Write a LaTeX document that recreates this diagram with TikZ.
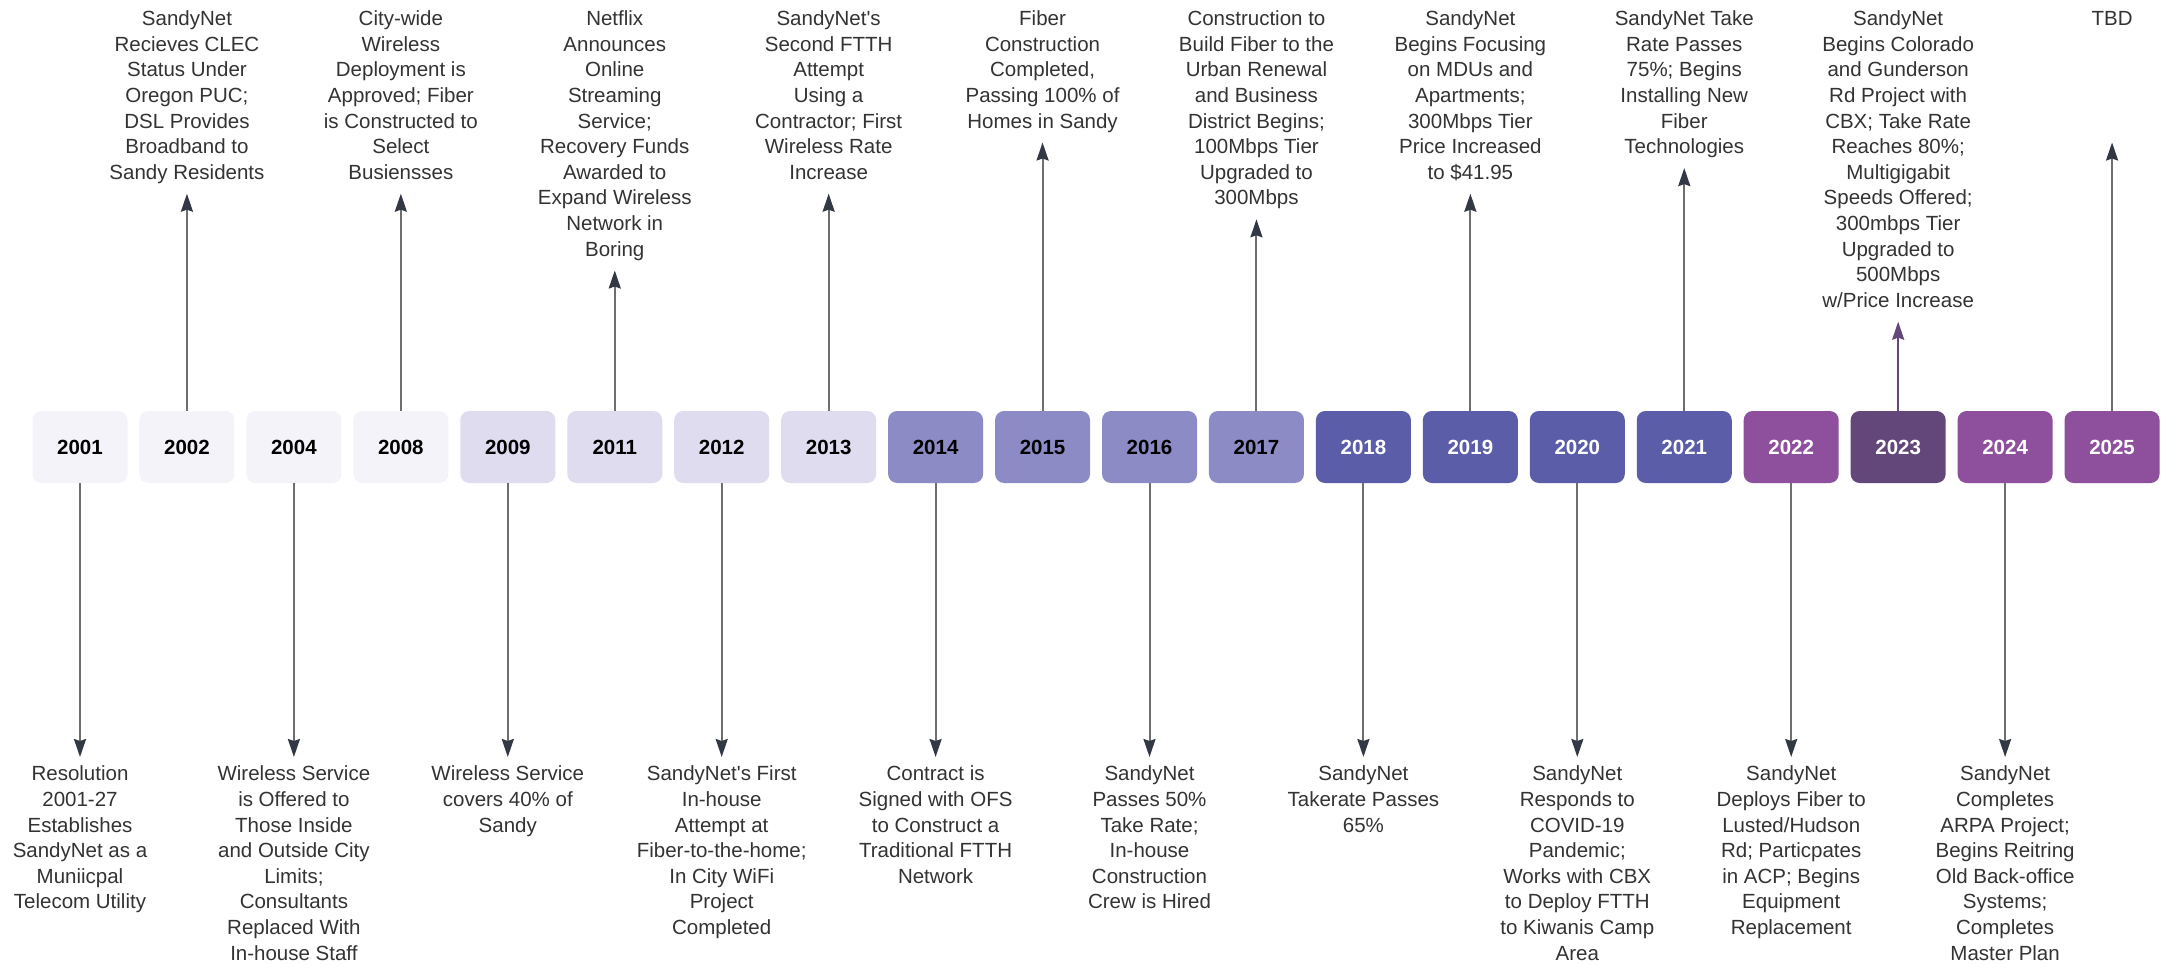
\documentclass[tikz,border=0pt]{standalone}
\usepackage{fontspec}
\setmainfont{Liberation Sans}
\usetikzlibrary{arrows.meta}
\definecolor{cA}{HTML}{F4F3F9}
\definecolor{cB}{HTML}{DEDCEE}
\definecolor{cC}{HTML}{8D8BC5}
\definecolor{cD}{HTML}{5B5DA8}
\definecolor{cE}{HTML}{8E4F9D}
\definecolor{cF}{HTML}{63477A}
\definecolor{txt}{HTML}{333333}
\definecolor{lineg}{HTML}{6E6E6E}
\definecolor{headg}{HTML}{323844}
\begin{document}
\begin{tikzpicture}[x=1pt,y=-1pt,
  yrbox/.style={rounded corners=9pt, minimum width=95pt, minimum height=72pt, inner sep=0pt,
    font=\fontsize{20.5}{24}\selectfont\bfseries},
  yrA/.style={yrbox, fill=cA, text=black},
  yrB/.style={yrbox, fill=cB, text=black},
  yrC/.style={yrbox, fill=cC, text=black},
  yrD/.style={yrbox, fill=cD, text=white},
  yrE/.style={yrbox, fill=cE, text=white},
  yrF/.style={yrbox, fill=cF, text=white},
  evtxt/.style={align=center, inner sep=0pt, text=txt, anchor=north,
    font=\fontsize{20.5}{25.6}\selectfont},
  conn/.style={line width=2pt, draw=lineg, -{Stealth[length=18pt,width=12pt,inset=2pt,color=headg]}},
  upconn/.style={conn, shorten >=6.5pt},
  dnconn/.style={conn, shorten >=5.7pt},
]
\useasboundingbox (0,0) rectangle (2170,965);
\fill[white] (0,0) rectangle (2170,965);

\foreach \i/\yr/\st in {0/2001/yrA,1/2002/yrA,2/2004/yrA,3/2008/yrA,
  4/2009/yrB,5/2011/yrB,6/2012/yrB,7/2013/yrB,
  8/2014/yrC,9/2015/yrC,10/2016/yrC,11/2017/yrC,
  12/2018/yrD,13/2019/yrD,14/2020/yrD,15/2021/yrD,
  16/2022/yrE,17/2023/yrF,18/2024/yrE,19/2025/yrE}
  \node[\st] (y\yr) at ({80+106.95*\i},447) {\yr};

\coordinate (toprow) at (0,7.6);
\coordinate (botrow) at (0,762.7);

% top texts
\node[evtxt] (t2002) at (y2002 |- toprow) {\strut SandyNet\\Recieves CLEC\\Status Under\\Oregon PUC;\\DSL Provides\\Broadband to\\Sandy Residents\strut};
\node[evtxt] (t2008) at (y2008 |- toprow) {\strut City-wide\\Wireless\\Deployment is\\Approved; Fiber\\is Constructed to\\Select\\Busiensses\strut};
\node[evtxt] (t2011) at (y2011 |- toprow) {\strut Netflix\\Announces\\Online\\Streaming\\Service;\\Recovery Funds\\Awarded to\\Expand Wireless\\Network in\\Boring\strut};
\node[evtxt] (t2013) at (y2013 |- toprow) {\strut SandyNet\textquotesingle s\\Second FTTH\\Attempt\\Using a\\Contractor; First\\Wireless Rate\\Increase\strut};
\node[evtxt] (t2015) at (y2015 |- toprow) {\strut Fiber\\Construction\\Completed,\\Passing 100\% of\\Homes in Sandy\strut};
\node[evtxt] (t2017) at (y2017 |- toprow) {\strut Construction to\\Build Fiber to the\\Urban Renewal\\and Business\\District Begins;\\100Mbps Tier\\Upgraded to\\300Mbps\strut};
\node[evtxt] (t2019) at (y2019 |- toprow) {\strut SandyNet\\Begins Focusing\\on MDUs and\\Apartments;\\300Mbps Tier\\Price Increased\\to \$41.95\strut};
\node[evtxt] (t2021) at (y2021 |- toprow) {\strut SandyNet Take\\Rate Passes\\75\%; Begins\\Installing New\\Fiber\\Technologies\strut};
\node[evtxt] (t2023) at (y2023 |- toprow) {\strut SandyNet\\Begins Colorado\\and Gunderson\\Rd Project with\\CBX; Take Rate\\Reaches 80\%;\\Multigigabit\\Speeds Offered;\\300mbps Tier\\Upgraded to\\500Mbps\\w/Price Increase\strut};
\node[evtxt] (t2025) at (y2025 |- toprow) {\strut TBD\strut};

% bottom texts
\node[evtxt] (b2001) at (y2001 |- botrow) {\strut Resolution\\2001-27\\Establishes\\SandyNet as a\\Muniicpal\\Telecom Utility\strut};
\node[evtxt] (b2004) at (y2004 |- botrow) {\strut Wireless Service\\is Offered to\\Those Inside\\and Outside City\\Limits;\\Consultants\\Replaced With\\In-house Staff\strut};
\node[evtxt] (b2009) at (y2009 |- botrow) {\strut Wireless Service\\covers 40\% of\\Sandy\strut};
\node[evtxt] (b2012) at (y2012 |- botrow) {\strut SandyNet\textquotesingle s First\\In-house\\Attempt at\\Fiber-to-the-home;\\In City WiFi\\Project\\Completed\strut};
\node[evtxt] (b2014) at (y2014 |- botrow) {\strut Contract is\\Signed with OFS\\to Construct a\\Traditional FTTH\\Network\strut};
\node[evtxt] (b2016) at (y2016 |- botrow) {\strut SandyNet\\Passes 50\%\\Take Rate;\\In-house\\Construction\\Crew is Hired\strut};
\node[evtxt] (b2018) at (y2018 |- botrow) {\strut SandyNet\\Takerate Passes\\65\%\strut};
\node[evtxt] (b2020) at (y2020 |- botrow) {\strut SandyNet\\Responds to\\COVID-19\\Pandemic;\\Works with CBX\\to Deploy FTTH\\to Kiwanis Camp\\Area\strut};
\node[evtxt] (b2022) at (y2022 |- botrow) {\strut SandyNet\\Deploys Fiber to\\Lusted/Hudson\\Rd; Particpates\\in ACP; Begins\\Equipment\\Replacement\strut};
\node[evtxt] (b2024) at (y2024 |- botrow) {\strut SandyNet\\Completes\\ARPA Project;\\Begins Reitring\\Old Back-office\\Systems;\\Completes\\Master Plan\strut};

% connectors up
\foreach \yr in {2002,2008,2011,2013,2015,2017,2019,2021}
  \draw[upconn] (y\yr.north) -- (t\yr.south);
\draw[upconn, draw=cF, -{Stealth[length=18pt,width=12pt,inset=2pt,color=cF]}] (y2023.north) -- (t2023.south);
\coordinate (tbdtip) at (y2025 |- t2015.south);
\draw[upconn] (y2025.north) -- (tbdtip);

% connectors down
\foreach \yr in {2001,2004,2009,2012,2014,2016,2018,2020,2022,2024}
  \draw[dnconn] (y\yr.south) -- (b\yr.north);
\end{tikzpicture}
\end{document}
